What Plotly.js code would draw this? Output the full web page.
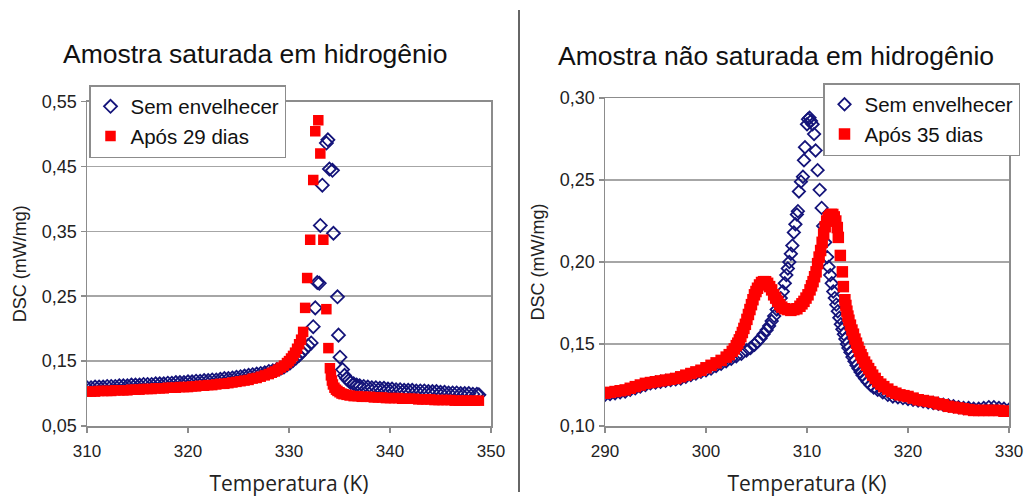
<!DOCTYPE html>
<html>
<head>
<meta charset="utf-8">
<script src="https://cdn.plot.ly/plotly-3.0.1.min.js"></script>
<style>html,body{margin:0;padding:0;background:#fff}#chart{width:1025px;height:497px}</style>
</head>
<body>
<div id="chart"></div>
<script>
// ---- Left chart: Amostra saturada em hidrogênio ----
var leftTitle = "Amostra saturada em hidrogênio";
var leftNames = ["Sem envelhecer", "Após 29 dias"];
var leftBlueX = [310.0,310.4,310.8,311.2,311.6,312.0,312.4,312.8,313.2,313.6,314.0,314.4,314.8,315.2,315.6,316.0,316.4,316.8,317.2,317.6,318.0,318.4,318.8,319.2,319.6,320.0,320.4,320.8,321.2,321.6,322.0,322.4,322.8,323.2,323.6,324.0,324.4,324.8,325.2,325.6,326.0,326.4,326.8,327.2,327.6,328.0,328.4,328.8,329.2,329.5,329.8,330.1,330.4,330.7,331.0,331.3,331.6,331.9,
  332.2,332.4,332.6,332.8,333.0,333.1,333.3,333.7,333.85,334.0,334.3,334.4,334.8,334.9,335.05,335.3,335.5,
  335.7,335.9,336.1,336.4,336.7,337.0,337.4,337.8,338.2,338.6,339.0,339.4,339.8,340.2,340.6,341.0,341.4,341.8,342.2,342.6,343.0,343.4,343.8,344.2,344.6,345.0,345.4,345.8,346.2,346.6,347.0,347.4,347.8,348.2,348.6,348.8];
var leftBlueY = [0.109,0.109,0.110,0.110,0.110,0.111,0.111,0.111,0.112,0.112,0.112,0.113,0.113,0.113,0.114,0.114,0.114,0.115,0.115,0.115,0.116,0.116,0.117,0.117,0.117,0.118,0.118,0.119,0.119,0.120,0.120,0.121,0.121,0.122,0.123,0.123,0.124,0.125,0.126,0.127,0.128,0.129,0.130,0.131,0.132,0.134,0.135,0.137,0.139,0.141,0.144,0.147,0.151,0.155,0.159,0.164,0.169,0.174,
  0.178,0.203,0.232,0.271,0.270,0.359,0.421,0.486,0.491,0.446,0.444,0.347,0.249,0.190,0.156,0.137,0.128,
  0.123,0.120,0.117,0.115,0.113,0.112,0.111,0.110,0.109,0.109,0.108,0.108,0.107,0.107,0.106,0.106,0.105,0.105,0.105,0.104,0.104,0.104,0.103,0.103,0.103,0.102,0.102,0.101,0.101,0.101,0.100,0.100,0.100,0.099,0.099,0.098];
var leftRedX = [310.0,310.4,310.8,311.2,311.6,312.0,312.4,312.8,313.2,313.6,314.0,314.4,314.8,315.2,315.6,316.0,316.4,316.8,317.2,317.6,318.0,318.4,318.8,319.2,319.6,320.0,320.4,320.8,321.2,321.6,322.0,322.4,322.8,323.2,323.6,324.0,324.4,324.8,325.2,325.6,326.0,326.4,326.8,327.2,327.6,328.0,328.3,328.6,328.9,329.2,329.5,329.8,330.0,330.2,330.4,330.6,330.8,331.0,331.2,
  331.4,331.6,331.8,332.1,332.4,332.6,332.9,333.1,333.4,333.7,333.9,
  334.05,334.15,334.25,334.35,334.5,334.65,334.8,335.0,335.2,335.4,335.7,336.0,336.4,336.8,337.2,337.6,338.0,338.4,338.8,339.2,339.6,340.0,340.4,340.8,341.2,341.6,342.0,342.4,342.8,343.2,343.6,344.0,344.4,344.8,345.2,345.6,346.0,346.4,346.8,347.2,347.6,348.0,348.4,348.8];
var leftRedY = [0.103,0.103,0.103,0.104,0.104,0.104,0.104,0.105,0.105,0.105,0.105,0.106,0.106,0.106,0.107,0.107,0.107,0.108,0.108,0.108,0.109,0.109,0.109,0.110,0.110,0.110,0.111,0.111,0.112,0.112,0.113,0.113,0.114,0.115,0.115,0.116,0.117,0.118,0.119,0.120,0.121,0.123,0.124,0.126,0.128,0.130,0.132,0.134,0.137,0.140,0.143,0.147,0.150,0.154,0.158,0.163,0.169,0.176,0.183,
  0.195,0.232,0.278,0.337,0.429,0.504,0.521,0.470,0.337,0.230,0.170,
  0.139,0.128,0.120,0.114,0.109,0.106,0.104,0.102,0.100,0.099,0.098,0.097,0.096,0.096,0.095,0.095,0.095,0.094,0.094,0.094,0.093,0.093,0.093,0.093,0.092,0.092,0.092,0.092,0.091,0.091,0.091,0.091,0.090,0.090,0.090,0.090,0.090,0.089,0.089,0.089,0.089,0.089,0.089,0.089];

// ---- Right chart: Amostra não saturada em hidrogênio ----
var rightTitle = "Amostra não saturada em hidrogênio";
var rightNames = ["Sem envelhecer", "Após 35 dias"];
var rightBlueX = [290.0,290.5,291.0,291.5,292.0,292.5,293.0,293.5,294.0,294.5,295.0,295.5,296.0,296.5,297.0,297.5,298.0,298.5,299.0,299.5,300.0,300.5,301.0,301.5,302.0,
  302.5,303.0,303.5,304.0,304.4,304.8,305.1,305.4,305.7,306.0,306.25,306.5,306.75,307.0,307.2,307.4,307.6,307.8,307.95,308.1,308.25,308.4,308.55,308.7,308.85,309.0,309.1,309.2,309.4,309.6,309.7,309.8,310.0,310.1,310.25,310.4,310.55,310.7,310.85,311.05,311.25,311.45,311.6,311.8,312.0,
  312.15,312.3,312.45,312.6,312.75,312.9,313.05,313.2,313.35,313.5,313.65,313.8,313.95,314.1,314.3,314.5,314.7,314.9,315.1,315.3,315.5,315.75,316.0,316.3,316.6,317.0,317.5,318.0,
  318.5,319.0,319.5,320.0,320.5,321.0,321.5,322.0,322.5,323.0,323.5,324.0,324.5,325.0,325.5,326.0,326.5,327.0,327.5,328.0,328.5,329.0,329.5,330.0];
var rightBlueY = [0.119,0.1195,0.120,0.1205,0.121,0.122,0.123,0.124,0.125,0.126,0.1265,0.127,0.1275,0.128,0.1285,0.129,0.130,0.131,0.132,0.133,0.134,0.135,0.1365,0.138,0.1395,
  0.141,0.1425,0.144,0.146,0.1475,0.1495,0.1515,0.1535,0.156,0.1585,0.161,0.164,0.167,0.171,0.1745,0.178,0.182,0.187,0.192,0.196,0.200,0.205,0.210,0.218,0.223,0.229,0.231,0.243,0.249,0.252,0.262,0.270,0.284,0.287,0.288,0.286,0.284,0.278,0.268,0.256,0.244,0.233,0.222,0.212,0.203,
  0.197,0.192,0.187,0.182,0.178,0.174,0.170,0.166,0.162,0.159,0.156,0.153,0.150,0.1475,0.145,0.142,0.1395,0.137,0.135,0.133,0.131,0.129,0.127,0.125,0.1235,0.122,0.1205,0.119,
  0.118,0.1175,0.117,0.1165,0.116,0.1155,0.115,0.1145,0.114,0.1135,0.113,0.1125,0.112,0.1115,0.111,0.111,0.1105,0.1105,0.111,0.1115,0.1115,0.111,0.1105,0.110];
var rightRedX = [290.0,290.5,291.0,291.5,292.0,292.5,293.0,293.5,294.0,294.5,295.0,295.5,296.0,296.5,297.0,297.5,298.0,298.5,299.0,299.5,300.0,300.5,301.0,301.5,302.0,
  302.3,302.6,302.8,303.0,303.15,303.3,303.45,303.6,303.75,303.9,304.05,304.2,304.35,304.5,304.65,304.8,304.95,305.1,305.3,305.5,305.7,305.9,306.1,306.3,306.5,306.7,306.9,307.1,307.3,307.5,307.8,308.1,308.4,308.7,309.0,309.3,309.5,309.7,309.9,
  310.1,310.3,310.45,310.6,310.75,310.9,311.05,311.2,311.35,311.5,311.65,311.8,311.95,312.1,312.25,312.4,312.55,312.7,312.85,313.0,313.1,313.3,313.5,313.6,
  313.75,313.85,313.95,314.05,314.15,314.3,314.45,314.6,314.75,314.9,315.05,315.2,315.35,315.5,315.7,315.9,316.1,316.3,316.5,316.75,317.0,317.3,317.6,318.0,318.4,318.8,319.2,319.6,
  320.0,320.5,321.0,321.5,322.0,322.5,323.0,323.5,324.0,324.5,325.0,325.5,326.0,326.5,327.0,327.5,328.0,328.5,329.0,329.5,330.0];
var rightRedY = [0.120,0.1205,0.121,0.1215,0.122,0.123,0.124,0.125,0.126,0.1265,0.127,0.1275,0.128,0.1285,0.129,0.130,0.131,0.132,0.133,0.134,0.1355,0.137,0.1385,0.140,0.142,
  0.1435,0.1455,0.147,0.149,0.1505,0.1525,0.1545,0.157,0.1595,0.162,0.165,0.168,0.171,0.174,0.177,0.180,0.182,0.184,0.186,0.1875,0.188,0.188,0.187,0.185,0.183,0.180,0.178,0.176,0.174,0.1725,0.1715,0.171,0.1705,0.171,0.1715,0.173,0.1745,0.176,0.178,
  0.180,0.183,0.1855,0.188,0.191,0.194,0.199,0.203,0.207,0.212,0.217,0.2215,0.225,0.227,0.228,0.229,0.229,0.2275,0.225,0.221,0.215,0.204,0.194,0.185,
  0.177,0.1735,0.170,0.167,0.1645,0.1615,0.1585,0.156,0.153,0.1505,0.148,0.1455,0.1435,0.1415,0.139,0.137,0.135,0.133,0.131,0.129,0.127,0.1255,0.124,0.1225,0.121,0.120,0.119,0.1185,
  0.118,0.117,0.116,0.1155,0.115,0.1145,0.1135,0.113,0.112,0.1115,0.111,0.1105,0.110,0.1095,0.1095,0.1095,0.1095,0.1095,0.1095,0.109,0.109];

var BLUE = "#14147a", RED = "#ff0000";
var FONT = "Liberation Sans, Arial, sans-serif";

function blue(x, y, name, xa, ya, lg, size) {
  return {type: "scatter", mode: "markers", x: x, y: y, name: name, xaxis: xa, yaxis: ya, legend: lg,
    marker: {symbol: "diamond-open", size: size, color: BLUE, line: {width: 1.8, color: BLUE}}};
}
function red(x, y, name, xa, ya, lg, size) {
  return {type: "scatter", mode: "markers", x: x, y: y, name: name, xaxis: xa, yaxis: ya, legend: lg,
    marker: {symbol: "square", size: size, color: RED}};
}

var data = [
  blue(leftBlueX, leftBlueY, leftNames[0], "x", "y", "legend", 10),
  red(leftRedX, leftRedY, leftNames[1], "x", "y", "legend", 10.5),
  blue(rightBlueX, rightBlueY, rightNames[0], "x2", "y2", "legend2", 9.5),
  red(rightRedX, rightRedY, rightNames[1], "x2", "y2", "legend2", 11.5)
];

function xax(dom, range, anchor) {
  return {domain: dom, range: range, dtick: 10, tick0: range[0], anchor: anchor, ticks: "outside", ticklen: 5, tickwidth: 1.5,
    tickcolor: "#8c8c8c", showline: true, linecolor: "#8c8c8c", linewidth: 1.5, mirror: true,
    showgrid: false, zeroline: false, ticklabelstandoff: 4, tickfont: {family: FONT, size: 17, color: "#222"},
    title: {text: "Temperatura (K)", font: {family: "Open Sans, sans-serif", size: 21, color: "#222"}, standoff: 21}};
}
function yax(dom, range, dtick, anchor) {
  return {domain: dom, range: range, dtick: dtick, tick0: range[0], tickformat: ".2f", anchor: anchor,
    ticks: "outside", ticklen: 5, tickwidth: 1.5, tickcolor: "#8c8c8c", showline: true, linecolor: "#8c8c8c",
    linewidth: 1.5, mirror: true, showgrid: true, gridcolor: "#a6a6a6", gridwidth: 1.5, zeroline: false,
    tickfont: {family: FONT, size: 18, color: "#222"},
    title: {text: "DSC (mW/mg)", font: {family: FONT, size: 18, color: "#222"}, standoff: 10}};
}

var layout = {
  width: 1025, height: 497, margin: {l: 0, r: 0, t: 0, b: 0},
  paper_bgcolor: "#fff", plot_bgcolor: "#fff", separators: ",.",
  showlegend: true,
  xaxis: xax([87/1025, 491/1025], [310, 350], "y"),
  yaxis: yax([71/497, 395.5/497], [0.05, 0.55], 0.1, "x"),
  xaxis2: xax([605/1025, 1009/1025], [290, 330], "y2"),
  yaxis2: yax([71/497, 399/497], [0.10, 0.30], 0.05, "x2"),
  legend: {x: 89/1025, y: (497-85)/497, xanchor: "left", yanchor: "top", bgcolor: "#fff",
    bordercolor: "#8c8c8c", borderwidth: 1.5, font: {family: FONT, size: 20.5, color: "#111"}, tracegroupgap: 0},
  legend2: {x: 823/1025, y: (497-83)/497, xanchor: "left", yanchor: "top", bgcolor: "#fff",
    bordercolor: "#8c8c8c", borderwidth: 1.5, font: {family: FONT, size: 20.5, color: "#111"}, tracegroupgap: 0},
  annotations: [
    {text: leftTitle, xref: "paper", yref: "paper", x: 254.5/1025, y: (497-54)/497, xanchor: "center", yanchor: "middle",
      showarrow: false, font: {family: FONT, size: 26.5, color: "#111"}},
    {text: rightTitle, xref: "paper", yref: "paper", x: 776/1025, y: (497-56)/497, xanchor: "center", yanchor: "middle",
      showarrow: false, font: {family: FONT, size: 26.5, color: "#111"}}
  ],
  shapes: [
    {type: "line", xref: "paper", yref: "paper", x0: 519/1025, x1: 519/1025, y0: 5/497, y1: 487/497,
      line: {color: "#333", width: 1.5}}
  ]
};

Plotly.newPlot("chart", data, layout, {displayModeBar: false, staticPlot: true});
</script>
</body>
</html>
